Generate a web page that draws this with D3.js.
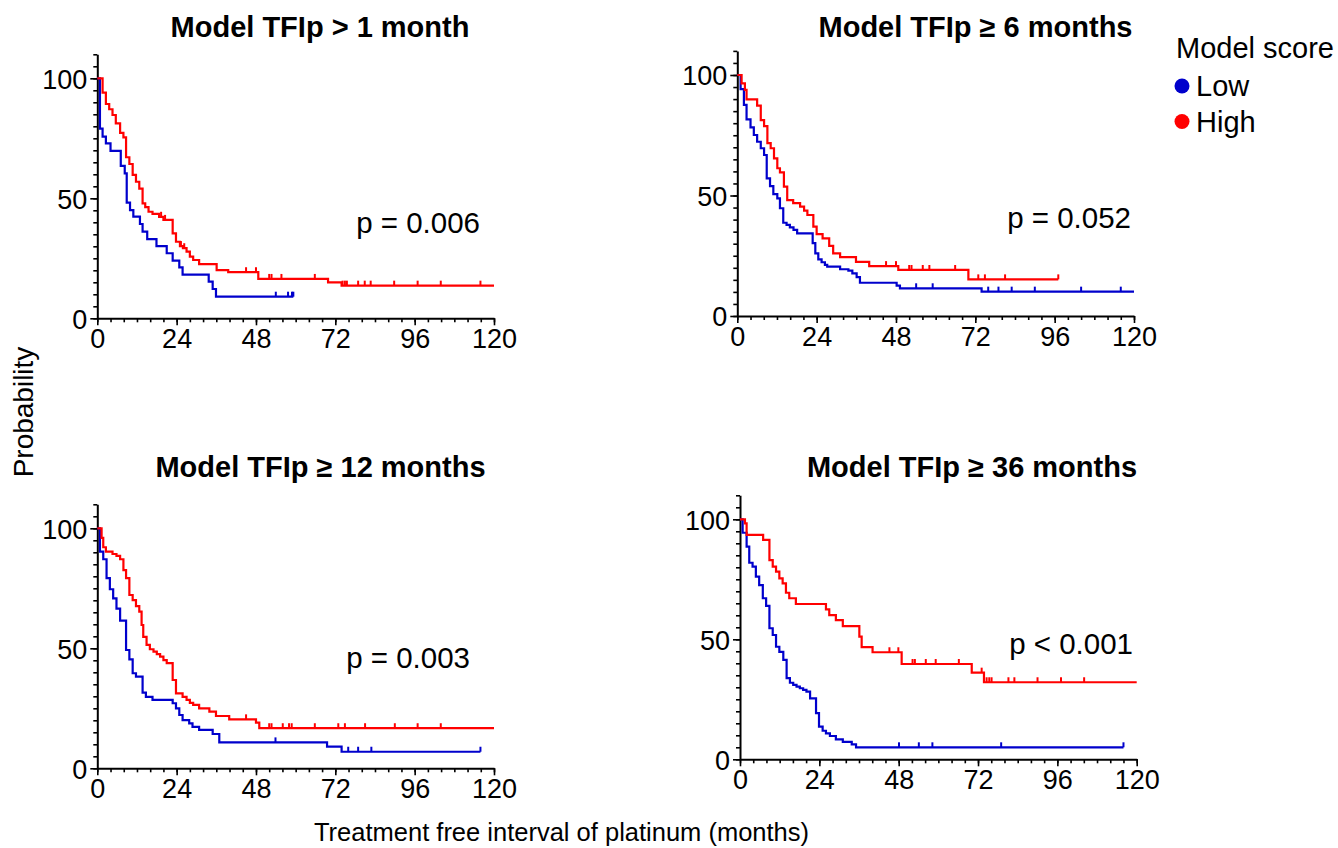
<!DOCTYPE html>
<html><head><meta charset="utf-8">
<script src="https://cdn.jsdelivr.net/npm/d3@7"></script>
<style>body{margin:0;background:#fff} text{font-family:"Liberation Sans",Arial,sans-serif;fill:#000}</style>
</head><body><svg id="c" width="1338" height="848"></svg>
<script>
// ---------- DATA ----------
const xTicks = [0, 24, 48, 72, 96, 120];
const yTicks = [0, 50, 100];
const panelTitles = ["Model TFIp > 1 month", "Model TFIp \u2265 6 months", "Model TFIp \u2265 12 months", "Model TFIp \u2265 36 months"];
const pValues = ["p = 0.006", "p = 0.052", "p = 0.003", "p < 0.001"];
const groupNames = ["Low", "High"];
const legendTitle = "Model score";
const yLabel = "Probability";
const xLabel = "Treatment free interval of platinum (months)";

// Kaplan-Meier steps: [month, survival % after drop]
const p1LowSteps = [[0.8,79],[1.6,75.7],[2.6,72.9],[4.0,69.8],[7.1,63.5],[8.3,60.4],[8.9,48.2],[9.9,45.1],[10.9,42.4],[12.9,39.3],[13.7,36.1],[15.1,33.0],[17.9,30.1],[21.0,27.1],[22.8,24.0],[24.8,21.2],[25.8,18.2],[33.7,15.3],[34.9,12.2],[35.9,9.0]];
const p1LowCensor = [54, 57.7, 58.9, 59.3];
const p1LowEnd = 59.3;
const p1HighSteps = [[1.6,94],[2.6,89.3],[3.6,87.1],[4.6,84.7],[5.6,81.2],[6.9,77.3],[7.9,75.4],[8.7,67.1],[9.7,64.3],[10.7,59.8],[11.7,56.9],[12.7,54],[13.7,47.9],[14.5,46.3],[15.5,44.4],[16.7,43.5],[18.7,42.3],[20,41],[22.8,35.4],[23.8,31.9],[25,30.1],[25.9,29.2],[27,27.8],[28,25.7],[29,24.3],[30.8,22.6],[36.1,20.1],[39.6,19.2],[48.7,16.4],[69.8,15.0],[73.9,13.6]];
const p1HighCensor = [19.3,20.5,25.3,26.3,45,48,52,52.7,55.7,65.8,74.2,74.9,75.5,78.9,80.9,82.7,89.8,96.9,103.9,115.9];
const p1HighEnd = 120;

const p2LowSteps = [[1.0,94.1],[2.0,87.6],[2.8,81.6],[4.0,78.3],[5.0,75.1],[6.0,72.3],[7.1,69.6],[8.1,66.8],[8.9,57.1],[9.9,53.9],[10.9,50.6],[12.1,48.8],[12.9,44.7],[13.9,38.7],[14.9,37.8],[15.9,36.8],[17.0,35.7],[18.1,34.3],[22.8,30.2],[23.6,26.0],[24.5,23.5],[25.5,22.3],[26.5,21.2],[27.2,20.5],[31.1,19.4],[33.6,18.8],[34.8,17.7],[36.1,16.1],[37.1,13.8],[48.2,12.6],[49.2,11.5],[73.9,10.1]];
const p2LowCensor = [54.1,59.1,75.9,79,83,90,104,116];
const p2LowEnd = 120;
const p2HighSteps = [[1.3,96.5],[2.3,93.8],[2.8,89.9],[6.0,87.3],[7.1,81.3],[8.1,78.8],[9.1,71.7],[10.1,69.6],[11.1,65.4],[12.1,61.3],[12.9,59.6],[14.1,53.7],[15.1,48.1],[16.9,46.8],[19.0,45.4],[20.2,43.7],[21.2,41.9],[23.0,37.1],[24.0,34.0],[25.8,32.2],[27.8,29.1],[29.0,26.0],[31.1,24.4],[35.9,22.5],[39.9,20.7],[48.7,19.1],[69.9,15.2]];
const p2HighCensor = [45,48,52,52.7,56.1,58.1,65.9,72.9,74.9,81,97.1];
const p2HighEnd = 97.1;

const p3LowSteps = [[0.8,90.3],[1.8,87.1],[2.8,79.2],[3.8,74.6],[4.8,70.8],[5.8,66.5],[6.9,61.5],[8.7,49.3],[9.7,45.4],[10.7,39.6],[11.7,38.2],[13.7,31.5],[14.7,29.8],[16.7,28.5],[22.8,27.1],[23.8,25],[24.8,22.2],[25.8,20.1],[27.8,18.7],[28.8,17.3],[30.8,16],[34.9,14.3],[36.9,10.8],[69.5,9.0],[73.9,6.9]];
const p3LowCensor = [53.9,75.9,78.9,82.9,115.9];
const p3LowEnd = 115.9;
const p3HighSteps = [[1.3,96],[1.8,92.1],[2.6,90.3],[4.6,89.3],[5.8,88.5],[6.9,87.1],[7.9,82.6],[8.7,79.2],[9.7,72.2],[10.7,70.1],[11.7,67.6],[12.7,65.3],[13.4,59.7],[13.9,54.8],[14.9,51.4],[15.9,49.6],[17,48.6],[18,47.6],[19,46.5],[20,45.1],[21,43.8],[22.8,36.8],[23.8,31.2],[25.8,29.8],[27,28.5],[28,27.3],[29,26.4],[30.8,25],[33.9,23.6],[35.9,21.8],[39.9,20.4],[48,19],[49,16.7]];
const p3HighCensor = [45,52,52.7,56.1,58,58.8,65.8,72.9,74.9,81,90,96.9,103.9];
const p3HighEnd = 120;

const p4LowSteps = [[0.8,94.4],[2.0,88.6],[2.8,81.9],[3.8,80.3],[4.8,76.1],[5.8,72.6],[6.9,67.1],[7.9,63.9],[8.9,54.6],[9.9,51.8],[10.9,46.9],[11.9,44.8],[13.1,41.4],[14.1,33.8],[15.1,31.9],[16.1,31],[17.1,30.3],[18.1,29.6],[19.1,28.9],[20.1,28.2],[21.2,25.4],[23,19.2],[23.9,13.6],[25,11.9],[26,10.8],[27.2,9.7],[29,8.3],[31.1,7.3],[33.8,6.25],[35.1,5.0]];
const p4LowCensor = [48.1,54.1,58.2,79,116];
const p4LowEnd = 116;
const p4HighSteps = [[1.5,98.3],[2.0,93.5],[7.0,91.4],[8.9,83],[9.9,80.3],[10.9,78.2],[11.9,75.4],[12.9,73.3],[13.9,69.4],[14.9,67.1],[16.9,64.7],[26,62.5],[27,60.1],[29,58],[31.1,55.5],[36.1,51.1],[36.8,46.7],[40.1,44.6],[48.9,39.7],[70.1,36.1],[73.8,32.1]];
const p4HighCensor = [45.2,47.9,52.2,52.9,56.2,59.2,66.2,73.1,74.6,75.4,76.1,81.2,83,90,97.1,104.1];
const p4HighEnd = 120;

const panels = [
  {low:[p1LowSteps,p1LowCensor,p1LowEnd], high:[p1HighSteps,p1HighCensor,p1HighEnd]},
  {low:[p2LowSteps,p2LowCensor,p2LowEnd], high:[p2HighSteps,p2HighCensor,p2HighEnd]},
  {low:[p3LowSteps,p3LowCensor,p3LowEnd], high:[p3HighSteps,p3HighCensor,p3HighEnd]},
  {low:[p4LowSteps,p4LowCensor,p4LowEnd], high:[p4HighSteps,p4HighCensor,p4HighEnd]}
];

// ---------- LAYOUT ----------
const layout = [
  {x0:97.3, x1:494,   y0:318.3, y100:78.3,  tx:320,   ty:36.7,  px:480,   py:232.7},
  {x0:737.3,x1:1134,  y0:316,   y100:75,    tx:975.5, ty:36.7,  px:1131,  py:228.3},
  {x0:97.3, x1:494,   y0:768.3, y100:528.3, tx:320.5, ty:476.5, px:470,   py:668.3},
  {x0:740,  x1:1136.7,y0:759.3, y100:519.3, tx:972,   ty:476.5, px:1133,  py:654}
];
const colors = {low:"#0000CC", high:"#FF0000"};
const FONT = 27;

const svg = d3.select("#c");

function survAt(steps, t){ let s=100; for(const [tt,v] of steps){ if(tt<=t) s=v; else break;} return s; }

panels.forEach((p,i)=>{
  const L = layout[i];
  const x = d3.scaleLinear().domain([0,120]).range([L.x0,L.x1]);
  const y = d3.scaleLinear().domain([0,100]).range([L.y0,L.y100]);
  const yAx = d3.scaleLinear().domain([0,110]).range([L.y0, y(110)]);
  const g = svg.append("g");

  // minor ticks
  g.append("g").attr("transform",`translate(0,${L.y0})`)
    .call(d3.axisBottom(x).tickValues(d3.range(0,121,4)).tickSize(4).tickFormat(""))
    .call(a=>a.select(".domain").remove());
  g.append("g").attr("transform",`translate(${L.x0},0)`)
    .call(d3.axisLeft(yAx).tickValues(d3.range(0,111,5)).tickSize(4).tickFormat(""))
    .call(a=>a.select(".domain").remove());
  // major axes
  const xa = g.append("g").attr("transform",`translate(0,${L.y0})`)
    .call(d3.axisBottom(x).tickValues(xTicks).tickSize(7).tickSizeOuter(0).tickPadding(4));
  const ya = g.append("g").attr("transform",`translate(${L.x0},0)`)
    .call(d3.axisLeft(yAx).tickValues(yTicks).tickSize(7).tickSizeOuter(0).tickPadding(3));
  [xa,ya].forEach(a=>a.attr("font-size",FONT).attr("font-family",null));
  g.selectAll(".tick line").attr("stroke","#000").attr("stroke-width",1.6);
  g.selectAll(".domain").attr("stroke","#000").attr("stroke-width",2);
  g.selectAll(".tick text").attr("fill","#000");
  ya.selectAll(".tick text").attr("dy","0.36em");

  // curves
  ["low","high"].forEach(k=>{
    const [steps, cens, end] = p[k];
    const pts = [[0,100], ...steps, [end, steps[steps.length-1][1]]];
    const line = d3.line().x(d=>x(d[0])).y(d=>y(d[1])).curve(d3.curveStepAfter);
    g.append("path").attr("d", line(pts)).attr("fill","none")
      .attr("stroke", colors[k]).attr("stroke-width",2.2);
    g.selectAll(null).data(cens).enter().append("line")
      .attr("x1",d=>x(d)).attr("x2",d=>x(d))
      .attr("y1",d=>y(survAt(steps,d))).attr("y2",d=>y(survAt(steps,d))-5)
      .attr("stroke", colors[k]).attr("stroke-width",2);
  });

  g.append("text").attr("x",L.tx).attr("y",L.ty).attr("text-anchor","middle")
    .attr("font-weight","bold").attr("font-size",29).text(panelTitles[i]);
  g.append("text").attr("x",L.px).attr("y",L.py).attr("text-anchor","end")
    .attr("font-size",29.5).text(pValues[i]);
});

// axis labels
svg.append("text").attr("transform","translate(33,412) rotate(-90)").attr("text-anchor","middle")
  .attr("font-size",28).text(yLabel);
svg.append("text").attr("x",561.5).attr("y",841).attr("text-anchor","middle")
  .attr("font-size",25.5).text(xLabel);

// legend
const lg = svg.append("g");
lg.append("text").attr("x",1176).attr("y",58.3).attr("font-size",29).text(legendTitle);
groupNames.forEach((n,j)=>{
  const k = j===0?"low":"high";
  lg.append("circle").attr("cx",1182).attr("cy",86+j*35.5).attr("r",7.5).attr("fill",colors[k]);
  lg.append("text").attr("x",1196).attr("y",86+j*35.5+10).attr("font-size",29).text(n);
});
</script></body></html>
